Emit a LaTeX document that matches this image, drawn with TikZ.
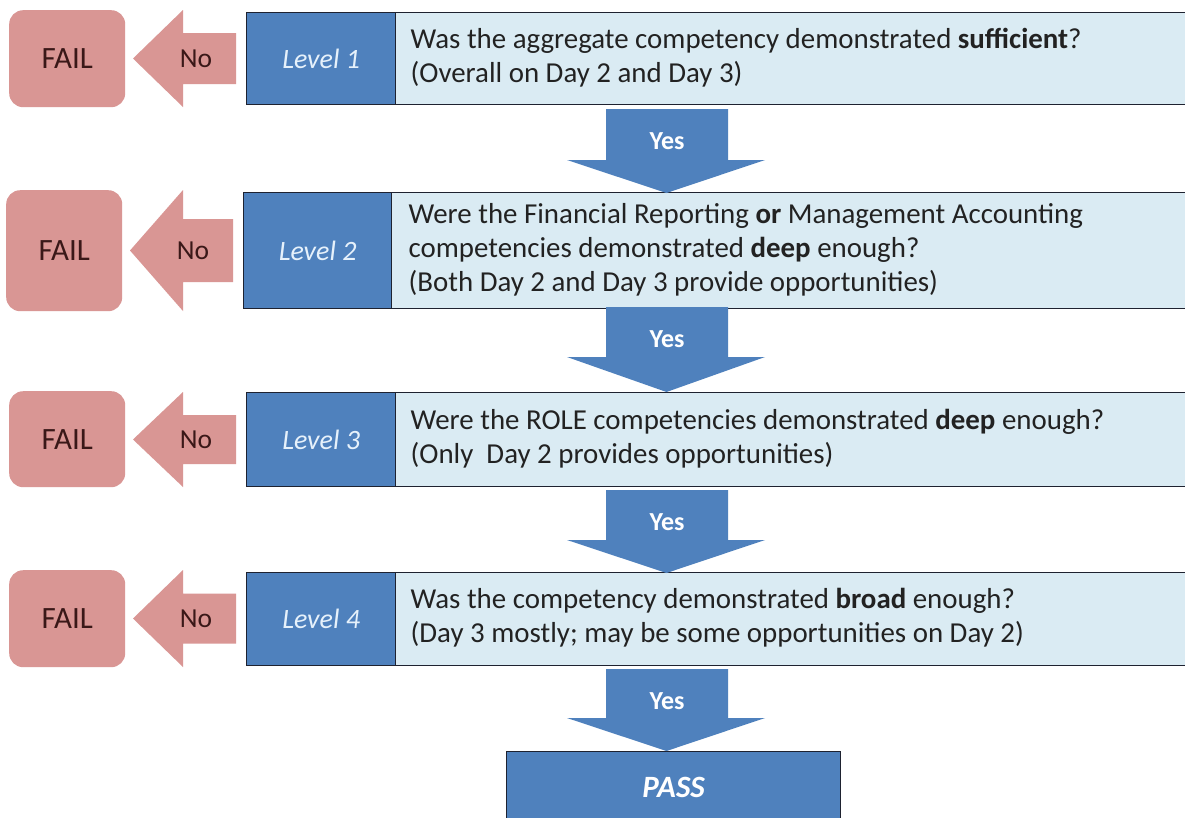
\documentclass[tikz,border=0pt]{standalone}
\usepackage{fontspec}
\setmainfont{Carlito}
\definecolor{blu}{HTML}{4F81BD}
\definecolor{lite}{HTML}{DAEBF3}
\definecolor{pnk}{HTML}{D99694}
\definecolor{dk}{HTML}{1E2230}
\definecolor{notxt}{HTML}{3A1818}
\definecolor{lvtxt}{HTML}{E6F1FB}
\definecolor{qtxt}{HTML}{222222}
\tikzset{
  failbox/.style={fill=pnk, rounded corners=14pt, minimum width=116pt, anchor=north west,
    inner sep=0pt, font=\fontsize{31}{36}\selectfont, text=notxt},
  lvlbox/.style={fill=blu, draw=dk, line width=1.3pt, anchor=north west, minimum width=149pt,
    inner sep=0pt, font=\fontsize{28}{33}\selectfont\itshape, text=lvtxt},
  qbox/.style={fill=lite, draw=dk, line width=1.3pt, anchor=north west, minimum width=795pt,
    inner sep=0pt, font=\fontsize{28.9}{34}\selectfont, text=qtxt},
  notext/.style={font=\fontsize{27.5}{33}\selectfont, text=notxt, inner sep=0pt},
  yestext/.style={font=\fontsize{26}{30}\selectfont\bfseries, text=white, inner sep=0pt},
  passbox/.style={fill=blu, draw=dk, line width=1.3pt, anchor=north west, minimum width=334pt,
    minimum height=72pt, inner sep=0pt, font=\fontsize{31}{36}\selectfont\bfseries\itshape, text=white}
}
\newcommand\QT[1]{\makebox[765pt][l]{\begin{tabular}{@{}l@{}}#1\end{tabular}}}
% #1 name, #2 centre y, #3 tip x, #4 head back x, #5 right x, #6 head half, #7 body half, #8 text x
\newcommand\DrawNo[8]{%
  \fill[pnk] (#3,#2) -- (#4,#2-#6) -- (#4,#2-#7) -- (#5,#2-#7) -- (#5,#2+#7)
    -- (#4,#2+#7) -- (#4,#2+#6) -- cycle;
  \node[notext] (#1) at (#8,#2) {No};}
% #1 name, #2 top y, #3 head y, #4 tip y
\newcommand\DrawYes[4]{%
  \fill[blu] (606,#2) -- (728,#2) -- (728,#3) -- (765,#3) -- (666.5,#4) -- (567,#3)
    -- (606,#3) -- cycle;
  \node[yestext] (#1) at (667,#2+32) {Yes};}
\begin{document}
\begin{tikzpicture}[x=1pt,y=-1pt]
\useasboundingbox (0,0) rectangle (1185,817);
\fill[white] (0,0) rectangle (1185,817);

% Row 1
\node[failbox, minimum height=97pt] (fail1) at (9,10) {FAIL};
\node[lvlbox, minimum height=92pt] (lvl1) at (246,12) {Level 1};
\node[qbox, minimum height=92pt] (q1) at (395,12)
  {\QT{Was the aggregate competency demonstrated \textbf{sufficient}?\\(Overall on Day 2 and Day 3)}};
\DrawNo{no1}{58.5}{133}{183}{236}{48.5}{25.5}{196}

% Row 2
\node[failbox, minimum height=121pt] (fail2) at (6,190) {FAIL};
\node[lvlbox, minimum height=116pt, minimum width=148pt] (lvl2) at (243,192) {Level 2};
\node[qbox, minimum height=116pt, minimum width=799pt] (q2) at (391,192)
  {\QT{Were the Financial Reporting \textbf{or} Management Accounting\\competencies demonstrated \textbf{deep} enough?\\(Both Day 2 and Day 3 provide opportunities)}};
\DrawNo{no2}{250.5}{130}{183}{233}{60.5}{31.5}{193}

% Row 3
\node[failbox, minimum height=96pt] (fail3) at (9,391) {FAIL};
\node[lvlbox, minimum height=94pt] (lvl3) at (246,392) {Level 3};
\node[qbox, minimum height=94pt] (q3) at (395,392)
  {\QT{Were the ROLE competencies demonstrated \textbf{deep} enough?\\(Only\ \ Day 2 provides opportunities)}};
\DrawNo{no3}{439.5}{133}{183}{236}{47.5}{24.5}{196}

% Row 4
\node[failbox, minimum height=97pt] (fail4) at (9,570) {FAIL};
\node[lvlbox, minimum height=93pt] (lvl4) at (246,572) {Level 4};
\node[qbox, minimum height=93pt] (q4) at (395,572)
  {\QT{Was the competency demonstrated \textbf{broad} enough?\\(Day 3 mostly; may be some opportunities on Day 2)}};
\DrawNo{no4}{618.5}{133}{183}{236}{48.5}{25}{196}

% PASS
\node[passbox] (pass) at (506,751) {PASS};

% Yes arrows
\DrawYes{yes1}{109}{160}{193}
\DrawYes{yes2}{307}{357}{392}
\DrawYes{yes3}{490}{540}{573}
\DrawYes{yes4}{669}{718}{751}
\end{tikzpicture}
\end{document}
